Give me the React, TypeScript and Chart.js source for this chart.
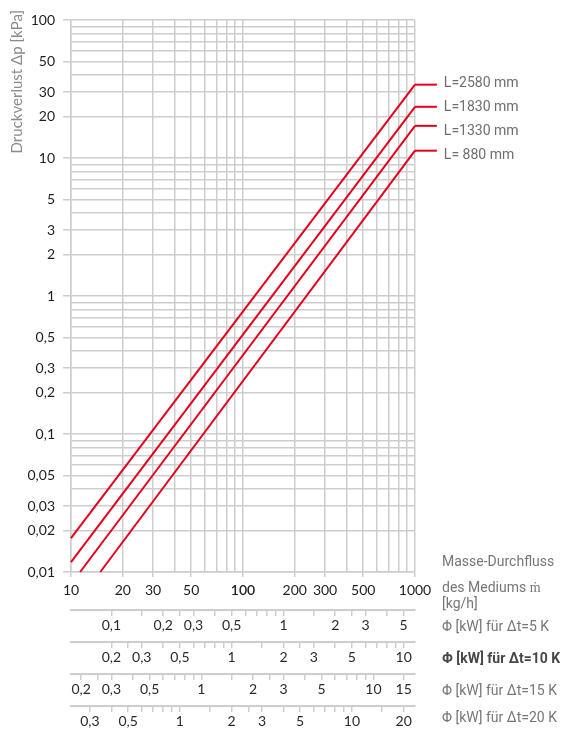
import React, { useEffect, useRef } from "react";
import { Chart, registerables } from "chart.js";

Chart.register(...registerables);

// ---- data ----
const SERIES_LABELS = ["L=2580 mm", "L=1830 mm", "L=1330 mm", "L= 880 mm"];
const FLOW_L2580 = [10, 1000];
const DP_L2580 = [0.0176, 34.0];
const FLOW_L1830 = [10, 1000];
const DP_L1830 = [0.0118, 23.5];
const FLOW_L1330 = [11.3, 1000];
const DP_L1330 = [0.01, 17.1];
const FLOW_L880 = [14.8, 1000];
const DP_L880 = [0.01, 11.3];
const LEADER_END_FLOW = 1340;

const X_TICKS = [10, 20, 30, 40, 50, 60, 70, 80, 90, 100, 200, 300, 400, 500, 600, 700, 800, 900, 1000];
const X_LABELS = [10, 20, 30, 50, 100, 200, 300, 500, 1000];
const Y_TICKS = [
  0.01, 0.02, 0.03, 0.04, 0.05, 0.06, 0.07, 0.08, 0.09,
  0.1, 0.2, 0.3, 0.4, 0.5, 0.6, 0.7, 0.8, 0.9,
  1, 2, 3, 4, 5, 6, 7, 8, 9,
  10, 20, 30, 40, 50, 60, 70, 80, 90, 100,
];
const Y_LABELS = [0.01, 0.02, 0.03, 0.05, 0.1, 0.2, 0.3, 0.5, 1, 2, 3, 5, 10, 20, 30, 50, 100];

const DT_VALUES = [5, 10, 15, 20];
const CP_WATER = 4.19; // kJ/(kg K)
const PHI_TICKS_5 = [0.1, 0.15, 0.2, 0.25, 0.3, 0.4, 0.5, 0.6, 0.7, 0.8, 0.9, 1, 1.5, 2, 2.5, 3, 4, 5];
const PHI_LABELS_5 = [0.1, 0.2, 0.3, 0.5, 1, 2, 3, 5];
const PHI_TICKS_10 = [0.2, 0.25, 0.3, 0.4, 0.5, 0.6, 0.7, 0.8, 0.9, 1, 1.5, 2, 2.5, 3, 4, 5, 6, 7, 8, 9, 10];
const PHI_LABELS_10 = [0.2, 0.3, 0.5, 1, 2, 3, 5, 10];
const PHI_TICKS_15 = [0.2, 0.25, 0.3, 0.4, 0.5, 0.6, 0.7, 0.8, 0.9, 1, 1.5, 2, 2.5, 3, 4, 5, 6, 7, 8, 9, 10, 15];
const PHI_LABELS_15 = [0.2, 0.3, 0.5, 1, 2, 3, 5, 10, 15];
const PHI_TICKS_20 = [0.3, 0.4, 0.5, 0.6, 0.7, 0.8, 0.9, 1, 1.5, 2, 2.5, 3, 4, 5, 6, 7, 8, 9, 10, 15, 20];
const PHI_LABELS_20 = [0.3, 0.5, 1, 2, 3, 5, 10, 20];
const PHI_TICKS = [PHI_TICKS_5, PHI_TICKS_10, PHI_TICKS_15, PHI_TICKS_20];
const PHI_LABELS = [PHI_LABELS_5, PHI_LABELS_10, PHI_LABELS_15, PHI_LABELS_20];
const RIGHT_LABELS = ["Φ [kW] für Δt=5 K", "Φ [kW] für Δt=10 K", "Φ [kW] für Δt=15 K", "Φ [kW] für Δt=20 K"];

const X_MIN = 10;
const X_MAX = 1000;

// ---- styles ----
const RED = "#e3001b";
const GRID = "#cdcdcd";
const TICK_FONT = "Lato";
const TEXT_FONT = "Roboto";

const fmt = (v: number) => String(v).replace(".", ",");
const has = (arr: number[], v: number) => arr.some((a) => Math.abs(a - v) / a < 1e-6);

function makePhiScale(i: number) {
  const k = (CP_WATER * DT_VALUES[i]) / 3600;
  const ticks = PHI_TICKS[i];
  const labels = PHI_LABELS[i];
  return {
    type: "logarithmic",
    position: "bottom",
    weight: i + 2,
    min: X_MIN * k,
    max: X_MAX * k,
    afterBuildTicks: (s: any) => {
      s.ticks = ticks.map((v) => ({ value: v }));
    },
    afterFit: (s: any) => {
      s.height = i === 3 ? 23 : 32;
    },
    grid: {
      drawOnChartArea: false,
      color: GRID,
      lineWidth: 1.5,
      tickLength: 6,
    },
    border: { display: true, color: GRID, width: 2 },
    ticks: {
      autoSkip: false,
      maxRotation: 0,
      padding: 1,
      color: "#2a2a2a",
      font: { family: TICK_FONT, size: 14 },
      callback: (v: number) => (has(labels, v) ? fmt(v) : ""),
    },
  };
}

const textPlugin = {
  id: "textPlugin",
  afterDatasetsDraw(chart: any) {
    const ctx = chart.ctx;
    const xs = chart.scales.x;
    const ys = chart.scales.y;
    ctx.save();
    ctx.strokeStyle = RED;
    ctx.lineWidth = 2;
    chart.data.datasets.forEach((ds: any) => {
      const last = ds.data[ds.data.length - 1];
      const py = ys.getPixelForValue(last.y);
      ctx.beginPath();
      ctx.moveTo(xs.getPixelForValue(last.x), py);
      ctx.lineTo(xs.getPixelForValue(LEADER_END_FLOW), py);
      ctx.stroke();
    });
    ctx.restore();
  },
  afterDraw(chart: any) {
    const ctx = chart.ctx;
    const area = chart.chartArea;
    const xs = chart.scales.x;
    const ys = chart.scales.y;
    ctx.save();
    // y axis title
    ctx.save();
    ctx.translate(17, area.top - 10);
    ctx.rotate(-Math.PI / 2);
    ctx.font = `15px ${TICK_FONT}`;
    ctx.fillStyle = "#8a8a8a";
    ctx.textAlign = "right";
    ctx.textBaseline = "middle";
    ctx.fillText("Druckverlust Δp [kPa]", 0, 0);
    ctx.restore();

    // series labels (evenly stacked beside the leaders)
    ctx.font = `14px ${TEXT_FONT}`;
    ctx.fillStyle = "#6e6e6e";
    ctx.textAlign = "left";
    ctx.textBaseline = "middle";
    const ds0 = chart.data.datasets[0].data;
    const y0 = ys.getPixelForValue(ds0[ds0.length - 1].y) - 1;
    const lx = xs.getPixelForValue(LEADER_END_FLOW) + 7;
    chart.data.datasets.forEach((_ds: any, i: number) => {
      ctx.fillText(SERIES_LABELS[i], lx, y0 + i * 24);
    });

    // right side labels
    const rx = area.right + 27;
    ctx.fillStyle = "#767676";
    ctx.fillText("Masse-Durchfluss", rx, xs.top - 10);
    ctx.fillText("des Mediums ṁ", rx, xs.top + 16);
    ctx.fillText("[kg/h]", rx, xs.top + 32);
    const ids = ["phi5", "phi10", "phi15", "phi20"];
    ids.forEach((id, i) => {
      const s = chart.scales[id];
      const bold = i === 1;
      ctx.font = `${bold ? "bold " : ""}14px ${TEXT_FONT}`;
      ctx.fillStyle = bold ? "#474747" : "#767676";
      ctx.fillText(RIGHT_LABELS[i], rx, s.top + (i === 3 ? 12 : 17));
    });
    ctx.restore();
  },
};

function toPoints(xs: number[], ys: number[]) {
  return xs.map((x, i) => ({ x, y: ys[i] }));
}

export default function App() {
  const ref = useRef<HTMLCanvasElement | null>(null);

  useEffect(() => {
    if (!ref.current) return;
    const series = [
      toPoints(FLOW_L2580, DP_L2580),
      toPoints(FLOW_L1830, DP_L1830),
      toPoints(FLOW_L1330, DP_L1330),
      toPoints(FLOW_L880, DP_L880),
    ];
    const chart = new Chart(ref.current, {
      type: "line",
      data: {
        datasets: series.map((d, i) => ({
          label: SERIES_LABELS[i],
          data: d,
          borderColor: RED,
          backgroundColor: RED,
          borderWidth: 2,
          pointRadius: 0,
          tension: 0,
          clip: false,
        })),
      },
      options: {
        responsive: false,
        animation: false,
        devicePixelRatio: 1,
        layout: { padding: { top: 20, right: 153, left: 0, bottom: 0 } },
        plugins: {
          legend: { display: false },
          tooltip: { enabled: false },
        },
        scales: {
          x: {
            type: "logarithmic",
            position: "bottom",
            weight: 1,
            min: X_MIN,
            max: X_MAX,
            afterBuildTicks: (s: any) => {
              s.ticks = X_TICKS.map((v) => ({ value: v }));
            },
            afterFit: (s: any) => {
              s.height = 38;
            },
            grid: {
              color: GRID,
              lineWidth: 1.5,
              tickLength: 5,
              tickColor: (c: any) => (c.tick && has(X_LABELS, c.tick.value) ? GRID : "rgba(0,0,0,0)"),
            },
            border: { display: true, color: GRID, width: 1.5 },
            ticks: {
              autoSkip: false,
              maxRotation: 0,
              padding: 5,
              color: "#1e1e1e",
              font: (c: any) => ({
                family: TICK_FONT,
                size: 14,
                weight: c.tick && c.tick.value === 100 ? "600" : "normal",
              }),
              callback: (v: number) => (has(X_LABELS, v) ? fmt(v) : ""),
            },
          },
          phi5: makePhiScale(0),
          phi10: makePhiScale(1),
          phi15: makePhiScale(2),
          phi20: makePhiScale(3),
          y: {
            type: "logarithmic",
            position: "left",
            min: 0.01,
            max: 100,
            afterBuildTicks: (s: any) => {
              s.ticks = Y_TICKS.map((v) => ({ value: v }));
            },
            afterFit: (s: any) => {
              s.width = 71;
            },
            grid: {
              color: GRID,
              lineWidth: 1.5,
              tickLength: 8,
              tickColor: (c: any) => (c.tick && has(Y_LABELS, c.tick.value) ? GRID : "rgba(0,0,0,0)"),
            },
            border: { display: true, color: GRID, width: 1.5 },
            ticks: {
              autoSkip: false,
              padding: 8,
              color: "#1e1e1e",
              font: { family: TICK_FONT, size: 14 },
              callback: (v: number) => (has(Y_LABELS, v) ? fmt(v) : ""),
            },
          },
        },
      } as any,
      plugins: [textPlugin],
    });
    return () => chart.destroy();
  }, []);

  return (
    <div style={{ position: "absolute", left: 0, top: 0, width: 568, height: 729, background: "#fff" }}>
      <canvas ref={ref} width={568} height={729} style={{ display: "block", width: 568, height: 729 }} />
    </div>
  );
}
